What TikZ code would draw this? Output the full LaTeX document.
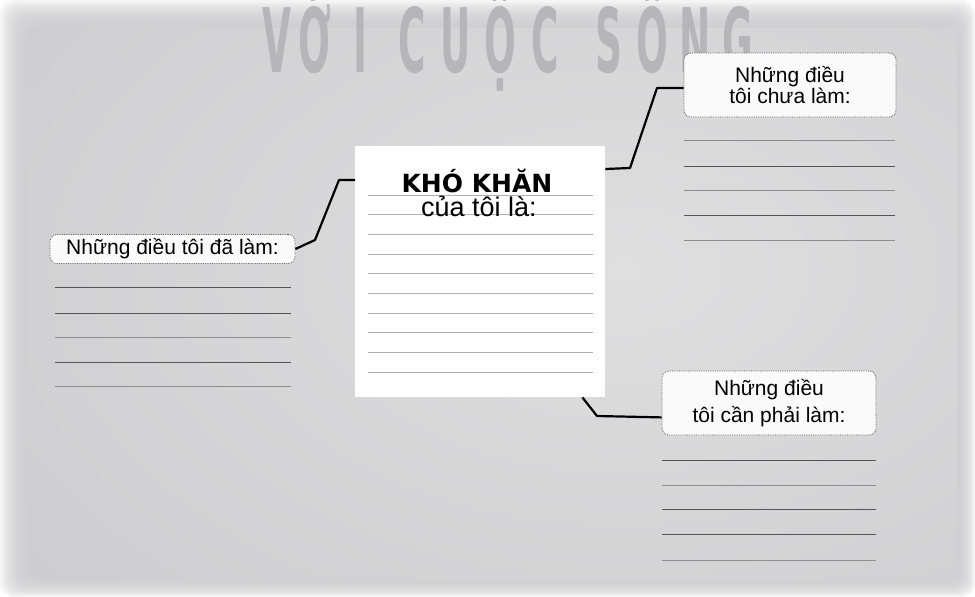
\documentclass[tikz,border=0pt]{standalone}
\usepackage{fontspec}
\setmainfont{Liberation Sans}
\newfontfamily\headfont{DejaVu Sans}
\usetikzlibrary{calc}
\definecolor{panelgray}{HTML}{CDCDCF}
\definecolor{panellight}{HTML}{DFDFE0}
\definecolor{titlegray}{HTML}{B6B6B8}
\definecolor{linedark}{HTML}{555555}
\definecolor{linelight}{HTML}{8E8E8E}
\definecolor{linepale}{HTML}{B0B0B0}
\newcommand\ttl[1]{\scalebox{0.42}[1]{\fontsize{89}{89}\selectfont\headfont\bfseries #1}}
\tikzset{
  labelbox/.style={draw=gray!75!black, densely dotted, line width=0.8pt, fill=white!96!gray,
    rounded corners=7pt, align=center, inner sep=0pt, font=\fontsize{21}{21.5}\selectfont},
  link/.style={line width=2.2pt, line join=round},
  wline/.style={line width=1pt},
  titletext/.style={text=titlegray, inner sep=0pt, anchor=base},
}
\begin{document}
\begin{tikzpicture}[x=1pt,y=-1pt]
\useasboundingbox (0,0) rectangle (975,597);
% grey panel with soft white edges
\fill[white] (0,0) rectangle (975,597);
\foreach \i in {0,...,11}
  \fill[panelgray, opacity=.2, rounded corners=14pt] (2.5*\i,2.5*\i) rectangle (975-1.6*\i,597-1.6*\i);
\begin{scope}
  \clip (28,28) rectangle (957,579);
  \shade[inner color=panellight, outer color=panelgray] (620,270) ellipse [x radius=760, y radius=480];
\end{scope}
% title, cut at the top
\foreach \ch/\x [count=\i] in {V/277,Ớ/315,I/360,C/412,U/456,Ộ/500,C/545,S/609,Ố/652,N/695,G/738}
  \node[titletext] (ttl\i) at (\x,72) {\ttl{\ch}};
% central sheet
\node[fill=white, minimum width=250, minimum height=251, anchor=north west, inner sep=0pt] (hard) at (355,146) {};
\foreach \k in {0,...,9}
  \draw[wline, draw=linepale] (368,195+19.7*\k) -- (593,195+19.7*\k);
\node[font=\headfont\bfseries\fontsize{25}{25}\selectfont, anchor=base, inner sep=0pt] (khokhan) at (477,192) {KHÓ KHĂN};
\node[font=\fontsize{27}{27}\selectfont, anchor=base, inner sep=0pt] (cuatoi) at (479,216) {của tôi là:};
% labels
\node[labelbox, minimum width=245, minimum height=29] (dalam) at (172.5,249) {Những điều tôi đã làm:};
\node[labelbox, minimum width=212, minimum height=64] (chualam) at (790,85) {Những điều\\tôi chưa làm:};
\node[labelbox, minimum width=214, minimum height=64, font=\fontsize{21}{27}\selectfont] (canlam) at (769,403) {Những điều\\tôi cần phải làm:};
% connectors
\draw[link] (dalam.east) -- (315,240) -- (339,180) -- ($(hard.north west)+(0,34)$);
\draw[link] ($(hard.north east)+(0,23)$) -- (630,168) -- (657,88) -- ($(chualam.west)+(0,3)$);
\draw[link] ($(hard.south east)+(-23,0)$) -- (597,416) -- ($(canlam.south west)+(0,-18)$);
% writing lines
\foreach \y/\c in {287/linedark,313/linedark,337/linelight,362/linedark,386/linelight}
  \draw[wline, draw=\c] (55,\y) -- (291,\y);
\foreach \y/\c in {140/linelight,166/linedark,190/linelight,215/linedark,240/linelight}
  \draw[wline, draw=\c] (684,\y) -- (895,\y);
\foreach \y/\c in {460/linedark,485/linelight,509/linedark,534/linedark,560/linelight}
  \draw[wline, draw=\c] (662,\y) -- (876,\y);
\end{tikzpicture}
\end{document}
